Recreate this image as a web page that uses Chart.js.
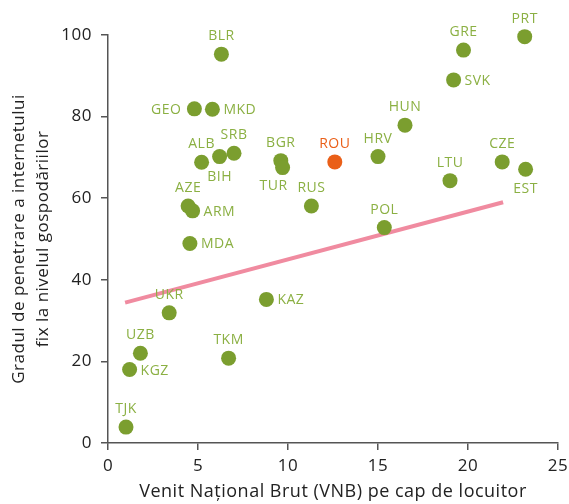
<!DOCTYPE html>
<html>
<head>
<meta charset="utf-8">
<script src="https://cdn.jsdelivr.net/npm/chart.js@4"></script>
<style>
  html, body { margin: 0; padding: 0; background: #ffffff; }
  #wrap { width: 569px; height: 504px; }
</style>
</head>
<body>
<div id="wrap"><canvas id="gniChart"></canvas></div>
<script>
// Countries, GNI per capita (thousands) and fixed broadband household penetration (%)
const countries = ["BLR", "GEO", "MKD", "ALB", "BIH", "SRB", "BGR", "TUR", "AZE", "ARM", "MDA",
  "RUS", "ROU", "HRV", "HUN", "GRE", "PRT", "SVK", "LTU", "CZE", "EST", "POL",
  "UKR", "KAZ", "UZB", "KGZ", "TKM", "TJK"];
const gni = [6.3, 4.8, 5.8, 5.2, 6.2, 7.0, 9.6, 9.7, 4.45, 4.7, 4.55,
  11.3, 12.6, 15.0, 16.5, 19.75, 23.15, 19.2, 19.0, 21.9, 23.2, 15.35,
  3.4, 8.8, 1.8, 1.2, 6.7, 1.0];
const penetration = [95.3, 81.9, 81.8, 68.8, 70.2, 71.0, 69.2, 67.5, 58.1, 56.9, 48.9,
  58.1, 68.9, 70.2, 77.9, 96.3, 99.6, 89.0, 64.3, 68.9, 67.1, 52.8,
  31.9, 35.2, 22.0, 18.0, 20.8, 3.9];
// where each country code sits relative to its dot
const labelSide = ["top", "left", "right", "top", "bottom", "top", "top", "bottomleft", "top", "right", "right",
  "top", "top", "top", "top", "top", "top", "right", "top", "top", "bottom", "top",
  "top", "right", "top", "right", "top", "top"];

// Fitted trend line endpoints
const trendX = [0.95, 21.95];
const trendY = [34.4, 59.0];

const highlight = "ROU";
const GREEN = "#7b9e2f";
const LABEL_GREEN = "#8bb043";
const ORANGE = "#ea5f18";
const FONT = "'Open Sans'";

const pointData = countries.map(function (c, i) {
  return { x: gni[i], y: penetration[i] };
});
const trendData = trendX.map(function (x, i) {
  return { x: x, y: trendY[i] };
});

// Slightly wider tracking for all canvas text
const tracking = {
  id: "tracking",
  beforeDraw: function (chart) {
    chart.ctx.letterSpacing = "0.5px";
  },
};

// Country code labels next to the dots
const countryLabels = {
  id: "countryLabels",
  afterDatasetsDraw: function (chart) {
    const ctx = chart.ctx;
    const meta = chart.getDatasetMeta(1);
    ctx.save();
    ctx.font = "14px " + FONT;
    ctx.textBaseline = "middle";
    meta.data.forEach(function (pt, i) {
      const side = labelSide[i];
      ctx.fillStyle = countries[i] === highlight ? ORANGE : LABEL_GREEN;
      let x = pt.x, y = pt.y;
      ctx.textAlign = "center";
      if (side === "top") {
        y -= 19;
      } else if (side === "bottom") {
        y += 19;
      } else if (side === "bottomleft") {
        y += 17; x -= 9;
      } else if (side === "right") {
        ctx.textAlign = "left"; x += 11;
      } else {
        ctx.textAlign = "right"; x -= 13;
      }
      ctx.fillText(countries[i], x, y + 1);
    });
    ctx.restore();
  },
};

const ctx = document.getElementById("gniChart").getContext("2d");
const chart = new Chart(ctx, {
  type: "scatter",
  data: {
    datasets: [
      {
        type: "line",
        label: "Trend",
        data: trendData,
        borderColor: "#f08ba0",
        borderWidth: 4,
        pointRadius: 0,
        fill: false,
        order: 2,
      },
      {
        label: "Țări",
        data: pointData,
        pointRadius: 7.5,
        pointBackgroundColor: countries.map(function (c) {
          return c === highlight ? ORANGE : GREEN;
        }),
        pointBorderWidth: 0,
        clip: false,
        order: 1,
      },
    ],
  },
  options: {
    responsive: true,
    maintainAspectRatio: false,
    animation: false,
    layout: {
      padding: { top: 35, right: 11, bottom: 0, left: 0 },
    },
    plugins: {
      legend: { display: false },
      tooltip: { enabled: false },
    },
    scales: {
      x: {
        type: "linear",
        min: 0,
        max: 25,
        afterFit: function (scale) {
          scale.height = 61;
          scale.paddingLeft = 0;
          scale.paddingRight = 0;
        },
        grid: {
          drawOnChartArea: false,
          drawTicks: true,
          tickLength: 7,
          color: "#555555",
          lineWidth: 1.5,
        },
        border: { color: "#555555", width: 1.5 },
        ticks: {
          stepSize: 5,
          color: "#222222",
          padding: 6,
          font: { family: FONT, size: 17 },
        },
        title: {
          display: true,
          text: "Venit Național Brut (VNB) pe cap de locuitor",
          color: "#222222",
          padding: { top: 0, bottom: 1 },
          font: { family: FONT, size: 18 },
        },
      },
      y: {
        min: 0,
        max: 100,
        afterFit: function (scale) {
          scale.width = 108;
        },
        grid: {
          drawOnChartArea: false,
          drawTicks: true,
          tickLength: 7,
          color: "#555555",
          lineWidth: 1.5,
        },
        border: { color: "#555555", width: 1.5 },
        ticks: {
          stepSize: 20,
          color: "#222222",
          padding: 9,
          font: { family: FONT, size: 17 },
        },
        title: {
          display: true,
          text: ["Gradul de penetrare a internetului", "fix la nivelul gospodăriilor"],
          color: "#222222",
          padding: { top: 7, bottom: 0 },
          font: { family: FONT, size: 17, lineHeight: 1.4 },
        },
      },
    },
  },
  plugins: [tracking, countryLabels],
});
</script>
</body>
</html>
